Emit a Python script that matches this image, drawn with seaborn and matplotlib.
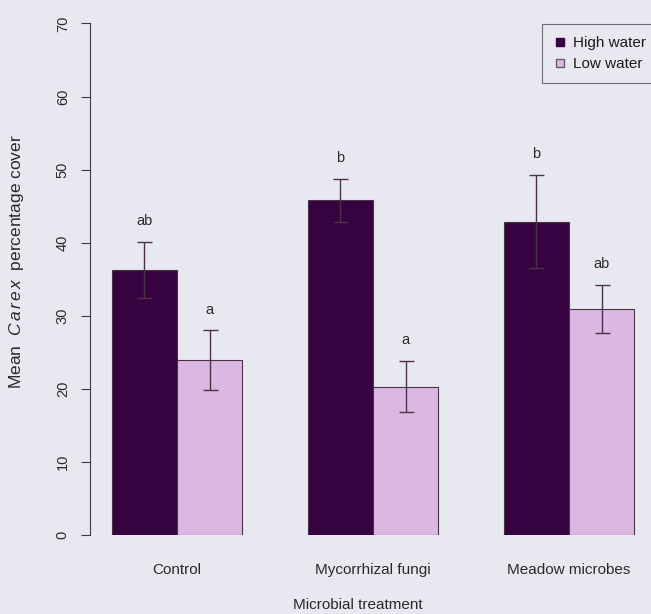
import pandas as pd
import matplotlib
matplotlib.use('Agg')
import matplotlib.pyplot as plt
import seaborn as sns
from matplotlib.lines import Line2D

# Data
treatments = ['Control', 'Mycorrhizal fungi', 'Meadow microbes']
water_levels = ['High water', 'Low water']
high_mean = [36.3, 45.8, 42.9]
high_err = [3.8, 2.9, 6.4]
low_mean = [23.9, 20.3, 30.9]
low_err = [4.1, 3.5, 3.3]
high_letters = ['ab', 'b', 'b']
low_letters = ['a', 'a', 'ab']

df = pd.DataFrame({
    'Treatment': treatments * 2,
    'Water': [water_levels[0]] * 3 + [water_levels[1]] * 3,
    'Cover': high_mean + low_mean,
    'SE': high_err + low_err,
    'Letter': high_letters + low_letters,
})

bg = '#e8e8f0'
dark = '#36023f'
light = '#dbb8e2'
line_col = '#4a3346'
text_col = '#2a2a2a'

sns.set_theme(style='white')
plt.rcParams['font.family'] = ['Liberation Sans', 'DejaVu Sans']
plt.rcParams['mathtext.fontset'] = 'custom'
plt.rcParams['mathtext.it'] = 'Liberation Sans:italic'
plt.rcParams['mathtext.rm'] = 'Liberation Sans'

fig = plt.figure(figsize=(6.51, 6.14), dpi=100, facecolor=bg)
ax = fig.add_axes([90 / 651, 79 / 614, 561 / 651, 532 / 614])
ax.set_facecolor(bg)

sns.barplot(data=df, x='Treatment', y='Cover', hue='Water', order=treatments,
            hue_order=water_levels, palette=[dark, light], saturation=1, width=2 / 3, gap=0,
            errorbar=None, edgecolor=line_col, linewidth=0.8, legend=False, ax=ax)

# error bars and significance letters at the bar centres
for container, level in zip(ax.containers, water_levels):
    sub = df[df['Water'] == level].set_index('Treatment').loc[treatments]
    xs = [p.get_x() + p.get_width() / 2 for p in container.patches]
    ax.errorbar(xs, sub['Cover'], yerr=sub['SE'], fmt='none', ecolor=line_col,
                elinewidth=1.0, capsize=5.4, capthick=1.0)
    for x, m, e, t in zip(xs, sub['Cover'], sub['SE'], sub['Letter']):
        ax.text(x, m + e + 2.3, t, ha='center', va='baseline', fontsize=10.5, color=text_col)

ax.set_xlim(-0.444, 2.418)
ax.set_ylim(0, 72.8)
ax.set_yticks(range(0, 71, 10))
ax.set_yticklabels([str(v) for v in range(0, 71, 10)], rotation=90, va='center')
ax.tick_params(axis='y', length=6.5, width=0.8, color=line_col, pad=8, labelsize=10.5,
               labelcolor=text_col, left=True)
ax.tick_params(axis='x', length=0, pad=20, labelsize=11, labelcolor=text_col)
for s in ['top', 'right', 'bottom']:
    ax.spines[s].set_visible(False)
ax.spines['left'].set_bounds(0, 70)
ax.spines['left'].set_color(line_col)
ax.spines['left'].set_linewidth(0.8)
ax.set_xlabel('')
ax.set_ylabel('')

fig.text(17 / 651, 1 - 262 / 614, r'Mean  $\it{C\,a\,r\,e\,x}$  percentage cover', rotation=90,
         ha='center', va='center', fontsize=12.5, color=text_col)
fig.text(358 / 651, 1 - 605 / 614, 'Microbial treatment', ha='center', va='center',
         fontsize=11, color=text_col)

handles = [
    Line2D([], [], marker='s', linestyle='none', markerfacecolor=dark,
           markeredgecolor=dark, markersize=5.5),
    Line2D([], [], marker='s', linestyle='none', markerfacecolor=light,
           markeredgecolor='#6a5a68', markersize=5.5),
]
leg = ax.legend(handles, water_levels, loc='upper left', bbox_to_anchor=(542 / 651, 1 - 24 / 614),
                bbox_transform=fig.transFigure, frameon=True, fancybox=False, fontsize=11,
                handletextpad=0.4, handlelength=0.8, borderpad=0.8, labelspacing=0.45,
                borderaxespad=0)
leg.get_frame().set_edgecolor('#5a4a55')
leg.get_frame().set_linewidth(0.8)
leg.get_frame().set_facecolor(bg)
for t in leg.get_texts():
    t.set_color('#1a1a1a')

fig.savefig('out.png', dpi=100, facecolor=bg)
